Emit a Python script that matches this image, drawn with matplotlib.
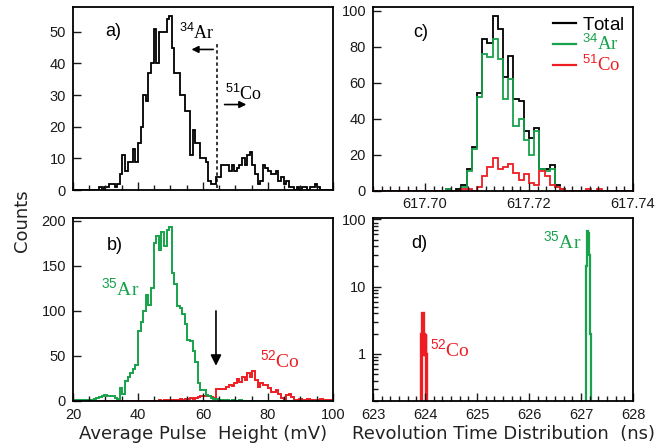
#Import libraries
import numpy as np
import matplotlib
matplotlib.use("Agg")
import matplotlib.pyplot as plt
from matplotlib.ticker import MultipleLocator, LogLocator, NullFormatter, FormatStrFormatter, FixedFormatter, FixedLocator

plt.rcParams["font.family"] = "Liberation Sans"
plt.rcParams["mathtext.fontset"] = "custom"
plt.rcParams["mathtext.rm"] = "Liberation Serif"
plt.rcParams["mathtext.sf"] = "Liberation Sans"

#Pulse height spectra (0.8 mV bins starting at 20 mV)
ph_start = 20.0
ph_width = 0.8
ar34_ph = [0, 0, 0, 0, 0, 0, 0, 0, 0, 0,
           1, 0, 1, 1, 2, 2, 1, 2, 5, 11,
           6, 9, 9, 13, 9, 15, 20, 30, 28, 37,
           40, 51, 40, 50, 50, 50, 54, 55, 45, 37,
           37, 30, 30, 25, 25, 11, 19, 15, 15, 10,
           10, 9, 3, 2, 2, 4, 4, 8, 8, 8,
           6, 8, 6, 7, 8, 10, 8, 11, 12, 8,
           5, 2, 3, 8, 7, 6, 5, 5, 6, 3,
           4, 2, 3, 1, 1, 0, 1, 0, 1, 1,
           0, 1, 1, 2, 1, 0, 0, 0, 0, 0]
ar35_ph = [1, 1, 1, 0, 1, 1, 1, 1, 2, 3,
           4, 6, 7, 6, 6, 5, 3, 2, 14, 8,
           22, 27, 31, 35, 40, 78, 88, 100, 118, 106,
           125, 175, 183, 168, 188, 172, 190, 193, 142, 130,
           105, 103, 97, 85, 68, 67, 55, 43, 20, 12,
           12, 7, 5, 3, 2, 2, 1, 1, 0, 1,
           0, 1, 0, 0, 1, 0, 0, 0, 0, 0,
           0, 0, 0, 0, 0, 0, 0, 0, 0, 0,
           0, 0, 0, 0, 0, 0, 0, 0, 0, 0,
           0, 0, 0, 0, 0, 0, 0, 0, 0, 0]
co52_ph = [0, 0, 0, 0, 0, 0, 0, 0, 0, 0,
           0, 0, 0, 0, 0, 0, 0, 0, 0, 0,
           0, 0, 0, 0, 0, 0, 0, 0, 0, 0,
           0, 0, 0, 1, 0, 1, 1, 0, 1, 1,
           1, 2, 1, 2, 2, 3, 2, 3, 4, 5,
           6, 7, 6, 4, 3, 13, 13, 13, 13, 16,
           18, 17, 20, 24, 21, 27, 23, 31, 27, 33,
           23, 16, 20, 18, 18, 14, 10, 10, 12, 8,
           3, 2, 7, 8, 4, 1, 1, 2, 1, 1,
           2, 1, 1, 0, 1, 2, 1, 1, 1, 1]

#Revolution time spectra, narrow window (1 ps bins)
rt_start = 617.69
rt_width = 0.001
total_rt = [0, 0, 0, 0, 0, 0, 0, 0, 0, 0,
            0, 0, 0, 0, 1, 0, 1, 3, 12, 24,
            54, 84, 82, 97, 90, 63, 75, 51, 50, 33,
            29, 35, 12, 12, 14, 3, 1, 0, 0, 0,
            0, 0, 0, 0, 0, 0, 0, 0, 0, 0]
ar34_rt = [0, 0, 0, 0, 0, 0, 0, 0, 0, 0,
           0, 0, 0, 0, 1, 0, 0, 2, 11, 23,
           52, 76, 74, 84, 73, 51, 62, 36, 40, 28,
           20, 33, 12, 11, 12, 2, 1, 0, 0, 0,
           0, 0, 0, 0, 0, 0, 0, 0, 0, 0]
co51_rt = [0, 0, 0, 0, 0, 0, 0, 0, 0, 0,
           0, 0, 0, 0, 0, 0, 0, 1, 1, 0,
           2, 8, 13, 18, 12, 13, 15, 10, 6, 9,
           4, 3, 11, 8, 3, 2, 1, 0, 0, 0,
           0, 1, 0, 1, 0, 0, 0, 0, 0, 0]

#Revolution time spectra, wide window (10 ps bins)
wide_width = 0.01
co52_rt_start = 623.93
co52_rt = [2, 4, 4, 3, 2, 2, 1, 2, 1]
ar35_rt_start = 627.09
ar35_rt = [3, 20, 50, 67, 65, 62, 60, 30, 8, 2]

GREEN = "#17a24b"
RED = "#ee1d23"


def edges(start, width, vals):
    return start + width * np.arange(len(vals) + 1)


def style_axis(ax):
    ax.tick_params(which="both", direction="in", top=False, right=False,
                   labelsize=10.5, width=1.0, pad=5, colors="#1a1a1a")
    ax.tick_params(which="major", length=6)
    ax.tick_params(which="minor", length=3.5)
    for s in ax.spines.values():
        s.set_linewidth(1.3)


def ion(mass, name):
    return r"$^{\mathsf{" + mass + r"}}\mathrm{" + name + r"}$"


fig = plt.figure(figsize=(6.69, 4.45), dpi=100)
ax_a = fig.add_axes([0.1091, 0.5730, 0.3886, 0.4112])
ax_b = fig.add_axes([0.1091, 0.0989, 0.3886, 0.4112])
ax_c = fig.add_axes([0.5575, 0.5719, 0.3886, 0.4124])
ax_d = fig.add_axes([0.5575, 0.0989, 0.3886, 0.4112])

#a) pulse height of 34Ar / 51Co
ax_a.stairs(ar34_ph, edges(ph_start, ph_width, ar34_ph), color="black", lw=1.3)
ax_a.plot([64.2, 64.2], [0.6, 46.5], color="black", lw=1.1, ls=(0, (2.2, 1.8)))
ax_a.annotate("", xy=(55.6, 44.4), xytext=(64.0, 44.4),
              arrowprops=dict(arrowstyle="-|>", color="black", lw=1.2, mutation_scale=10))
ax_a.annotate("", xy=(74.2, 27.0), xytext=(65.8, 27.0),
              arrowprops=dict(arrowstyle="-|>", color="black", lw=1.2, mutation_scale=10))
ax_a.text(58.0, 49.5, ion("34", "Ar"), fontsize=13, ha="center", va="center")
ax_a.text(72.6, 30.5, ion("51", "Co"), fontsize=13, ha="center", va="center")
ax_a.text(32.4, 50, "a)", fontsize=13, ha="center", va="center")
ax_a.set_xlim(20, 100)
ax_a.set_ylim(0, 57.8)
ax_a.xaxis.set_major_locator(MultipleLocator(20))
ax_a.xaxis.set_minor_locator(MultipleLocator(5))
ax_a.yaxis.set_major_locator(MultipleLocator(10))
ax_a.set_xticklabels([])
style_axis(ax_a)

#b) pulse height of 35Ar / 52Co
ax_b.stairs(co52_ph, edges(ph_start, ph_width, co52_ph), color=RED, lw=1.4)
ax_b.stairs(ar35_ph, edges(ph_start, ph_width, ar35_ph), color=GREEN, lw=1.4)
ax_b.annotate("", xy=(64.0, 36), xytext=(64.0, 103),
              arrowprops=dict(arrowstyle="-|>", color="black", lw=1.2, mutation_scale=16))
ax_b.text(34.5, 125, ion("35", "Ar"), fontsize=14, color=GREEN, ha="center", va="center")
ax_b.text(83.7, 45, ion("52", "Co"), fontsize=14, color=RED, ha="center", va="center")
ax_b.text(32.9, 173, "b)", fontsize=13, ha="center", va="center")
ax_b.set_xlim(20, 100)
ax_b.set_ylim(0, 203)
ax_b.xaxis.set_major_locator(MultipleLocator(20))
ax_b.xaxis.set_minor_locator(MultipleLocator(5))
ax_b.yaxis.set_major_locator(MultipleLocator(50))
style_axis(ax_b)

#c) revolution time, narrow window
ax_c.stairs(total_rt, edges(rt_start, rt_width, total_rt), color="black", lw=1.3,
            label=r"$\mathsf{Total}$")
ax_c.stairs(ar34_rt, edges(rt_start, rt_width, ar34_rt), color=GREEN, lw=1.3,
            label=ion("34", "Ar"))
ax_c.stairs(co51_rt, edges(rt_start, rt_width, co51_rt), color=RED, lw=1.3,
            label=ion("51", "Co"))
ax_c.text(617.6991, 88, "c)", fontsize=13, ha="center", va="center")
leg = ax_c.legend(loc="upper right", bbox_to_anchor=(1.01, 1.01), frameon=False,
                  fontsize=13.5, handlelength=1.25, handletextpad=0.3, labelspacing=0.0,
                  borderaxespad=0.2, labelcolor=["black", GREEN, RED])
for h in leg.legend_handles:
    h.set_linewidth(1.6)
ax_c.set_xlim(617.69, 617.74)
ax_c.set_ylim(0, 102)
ax_c.xaxis.set_major_locator(FixedLocator([617.70, 617.72, 617.74]))
ax_c.xaxis.set_major_formatter(FormatStrFormatter("%.2f"))
ax_c.xaxis.set_minor_locator(MultipleLocator(0.02 / 12))
ax_c.yaxis.set_major_locator(MultipleLocator(20))
style_axis(ax_c)

#d) revolution time, wide window (log scale)
floor = 1e-3
co52_clip = np.maximum(co52_rt, floor)
ar35_clip = np.maximum(ar35_rt, floor)
ax_d.stairs(co52_clip, edges(co52_rt_start, wide_width, co52_rt), color=RED, lw=2.4, baseline=floor)
ax_d.stairs(ar35_clip, edges(ar35_rt_start, wide_width, ar35_rt), color=GREEN, lw=1.6, baseline=floor)
ax_d.set_yscale("log")
ax_d.text(626.63, 46.5, ion("35", "Ar"), fontsize=14, color=GREEN, ha="center", va="center")
ax_d.text(624.48, 1.16, ion("52", "Co"), fontsize=14, color=RED, ha="center", va="center")
ax_d.text(623.9, 44, "d)", fontsize=13, ha="center", va="center")
ax_d.set_xlim(623, 628)
ax_d.set_ylim(0.2, 105)
ax_d.xaxis.set_major_locator(MultipleLocator(1))
ax_d.xaxis.set_minor_locator(MultipleLocator(1 / 6))
ax_d.yaxis.set_major_locator(FixedLocator([1, 10, 100]))
ax_d.yaxis.set_major_formatter(FixedFormatter(["1", "10", "100"]))
ax_d.yaxis.set_minor_locator(LogLocator(base=10, subs=np.arange(2, 10)))
ax_d.yaxis.set_minor_formatter(NullFormatter())
style_axis(ax_d)

#Axis titles
fig.text(0.033, 0.505, "Counts", rotation=90, ha="center", va="center",
         fontsize=13, family="DejaVu Sans", color="#222222")
fig.text(0.3034, 0.025, "Average Pulse  Height (mV)", ha="center", va="center",
         fontsize=13, family="DejaVu Sans", color="#222222")
fig.text(0.752, 0.025, "Revolution Time Distribution  (ns)", ha="center", va="center",
         fontsize=13, family="DejaVu Sans", color="#222222")

#Save plot
plt.savefig("out.png", dpi=100)
